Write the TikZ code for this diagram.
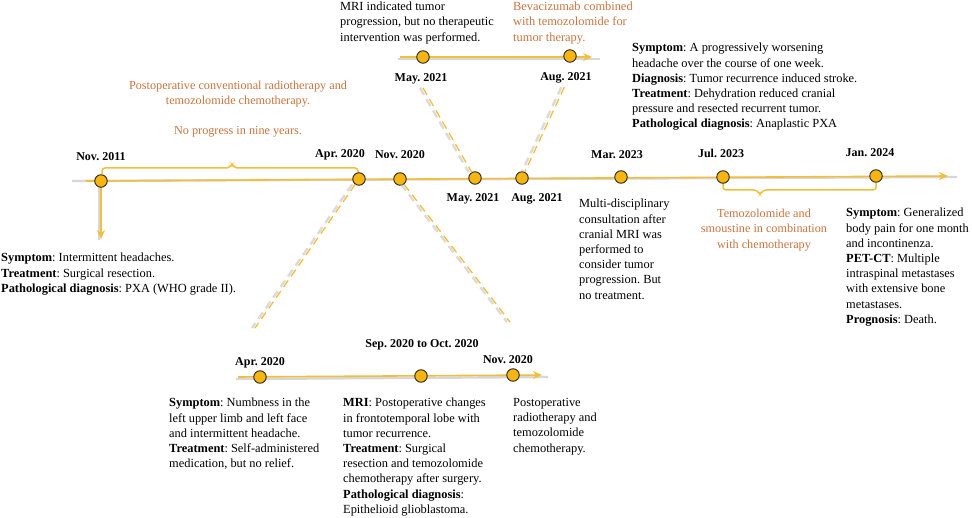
\documentclass[tikz,border=0pt]{standalone}
\usepackage{fontspec}
\setmainfont{Liberation Serif}
\usetikzlibrary{arrows.meta}
\definecolor{tlyel}{HTML}{F2BE3C}
\definecolor{dotfill}{HTML}{F7B512}
\definecolor{orng}{HTML}{C9743F}
\definecolor{shad}{HTML}{B0B0B0}
\frenchspacing
\begin{document}
\begin{tikzpicture}[x=1pt,y=-1pt,
  dot/.style={circle,draw=black!85,line width=0.9pt,fill=dotfill,minimum size=12.5pt,inner sep=0},
  datelab/.style={font=\fontsize{12}{14}\selectfont\bfseries,inner sep=0},
  body/.style={font=\fontsize{12.4}{15.2}\selectfont,align=left,anchor=north west,inner sep=0},
  orangetxt/.style={font=\fontsize{12.2}{15.2}\selectfont,text=orng,inner sep=0},
  tline/.style={draw=tlyel,line width=1.6pt},
  shadowline/.style={draw=shad,line width=2.4pt,opacity=0.5},
  dashy/.style={draw=tlyel,line width=1.3pt,dash pattern=on 8pt off 5pt},
  dashshadow/.style={draw=shad,line width=2.4pt,dash pattern=on 8pt off 5pt,opacity=0.45},
  tipped/.style={-{Stealth[length=9pt,width=8pt,inset=3pt]}},
  bracket/.style={draw=tlyel,line width=1.5pt,rounded corners=3pt}
]
\useasboundingbox (0,0) rectangle (972,518);

% ---------- main timeline ----------
\coordinate (ms) at (72,181);
\coordinate (mss) at (86,181);
\coordinate (me) at (948,176);
\coordinate (mse) at (957,177);
\draw[shadowline] (ms) -- (mse);
\draw[tline,tipped] (mss) -- (me);

% bracket over Nov 2011 -- Apr 2020
\coordinate (b1a) at (102,174);
\coordinate (b1b) at (358,174);
\draw[bracket] (b1a) -- (102,168) -- (229,168) -- (232,164) -- (235,168) -- (358,168) -- (b1b);

% bracket under Jul 2023 -- Jan 2024
\coordinate (b2a) at (723,183);
\coordinate (b2b) at (876,183);
\draw[bracket] (b2a) -- (723,190) -- (757,190) -- (760,195) -- (763,190) -- (876,190) -- (b2b);

% down arrow from Nov 2011
\coordinate (dn) at (101,239);
\coordinate (dns) at (99,240);
\draw[shadowline] (99,186) -- (dns);
\draw[tline,tipped] (101,186) -- (dn);

% main circles
\node[dot] (n2011) at (101,181) {};
\node[dot] (a2020) at (359,179) {};
\node[dot] (n2020) at (400,179) {};
\node[dot] (m2021) at (475,178) {};
\node[dot] (g2021) at (522,178) {};
\node[dot] (r2023) at (621,177) {};
\node[dot] (j2023) at (723,177) {};
\node[dot] (j2024) at (876,176) {};

% main labels
\node[datelab] (ln2011) at (101,157) {Nov. 2011};
\node[datelab] (la2020) at (340,155) {Apr. 2020};
\node[datelab] (ln2020) at (400,155) {Nov. 2020};
\node[datelab] (lm2021) at (473,199) {May. 2021};
\node[datelab] (lg2021) at (537,199) {Aug. 2021};
\node[datelab] (lr2023) at (617,155) {Mar. 2023};
\node[datelab] (lj2023) at (721,153) {Jul. 2023};
\node[datelab] (lj2024) at (870,153) {Jan. 2024};

% ---------- upper timeline ----------
\coordinate (us) at (400,57);
\coordinate (ue) at (592,57);
\coordinate (use) at (600,59);
\draw[shadowline] (398,59) -- (use);
\draw[tline,tipped] (us) -- (ue);
\node[dot] (um) at (423,57) {};
\node[dot] (ug) at (570,56) {};
\node[datelab] (luml) at (421,79) {May. 2021};
\node[datelab] (lugl) at (566,78) {Aug. 2021};

% ---------- lower timeline ----------
\coordinate (ls) at (238,377);
\coordinate (le) at (542,375);
\draw[shadowline] (236,379) -- (548,377);
\draw[tline,tipped] (ls) -- (le);
\node[dot] (la) at (260,377) {};
\node[dot] (lsd) at (421,376) {};
\node[dot] (ln) at (513,375) {};
\node[datelab] (lla) at (260,363) {Apr. 2020};
\node[datelab] (llsd) at (422,345) {Sep. 2020 to Oct. 2020};
\node[datelab] (lln) at (508,360) {Nov. 2020};

% ---------- dashed connectors ----------
\coordinate (d1e) at (255,328);
\coordinate (d2e) at (510,322);
\begin{scope}[transform canvas={xshift=-3pt,yshift=0pt}]
  \draw[dashshadow] (a2020) -- (d1e);
  \draw[dashshadow] (n2020) -- (d2e);
  \draw[dashshadow,shorten <=4pt] (luml.south) -- (m2021);
  \draw[dashshadow,shorten <=4pt] (lugl.south) -- (g2021);
\end{scope}
\draw[dashy] (a2020) -- (d1e);
\draw[dashy] (n2020) -- (d2e);
\draw[dashy,shorten <=4pt] (luml.south) -- (m2021);
\draw[dashy,shorten <=4pt] (lugl.south) -- (g2021);

% ---------- texts ----------
\node[body] (t2011) at (1,253) {\textbf{Symptom}: Intermittent headaches.\\ \textbf{Treatment}: Surgical resection.\\ \textbf{Pathological diagnosis}: PXA (WHO grade II).};

\node[body] (tright) at (632,43) {\textbf{Symptom}: A progressively worsening\\ headache over the course of one week.\\ \textbf{Diagnosis}: Tumor recurrence induced stroke.\\ \textbf{Treatment}: Dehydration reduced cranial\\ pressure and resected recurrent tumor.\\ \textbf{Pathological diagnosis}: Anaplastic PXA};

\node[body] (t2023) at (579,199) {Multi-disciplinary\\ consultation after\\ cranial MRI was\\ performed to\\ consider tumor\\ progression. But\\ no treatment.};

\node[body] (t2024) at (846,208) {\textbf{Symptom}: Generalized\\ body pain for one month\\ and incontinenza.\\ \textbf{PET-CT}: Multiple\\ intraspinal metastases\\ with extensive bone\\ metastases.\\ \textbf{Prognosis}: Death.};

\node[body] (tla) at (169,398) {\textbf{Symptom}: Numbness in the\\ left upper limb and left face\\ and intermittent headache.\\ \textbf{Treatment}: Self-administered\\ medication, but no relief.};

\node[body] (tlsd) at (343,398) {\textbf{MRI}: Postoperative changes\\ in frontotemporal lobe with\\ tumor recurrence.\\ \textbf{Treatment}: Surgical\\ resection and temozolomide\\ chemotherapy after surgery.\\ \textbf{Pathological diagnosis}:\\ Epithelioid glioblastoma.};

\node[body] (tln) at (513,398) {Postoperative\\ radiotherapy and\\ temozolomide\\ chemotherapy.};

\node[body] (tum) at (340,2) {MRI indicated tumor\\ progression, but no therapeutic\\ intervention was performed.};

\node[body,text=orng] (tug) at (513,2) {Bevacizumab combined\\ with temozolomide for\\ tumor therapy.};

\node[orangetxt,align=center] (o1) at (238,94) {Postoperative conventional radiotherapy and\\ temozolomide chemotherapy.};
\node[orangetxt] (o2) at (238,132) {No progress in nine years.};
\node[orangetxt,align=center] (o3) at (764,230) {Temozolomide and\\ smoustine in combination\\ with chemotherapy};

\end{tikzpicture}
\end{document}
